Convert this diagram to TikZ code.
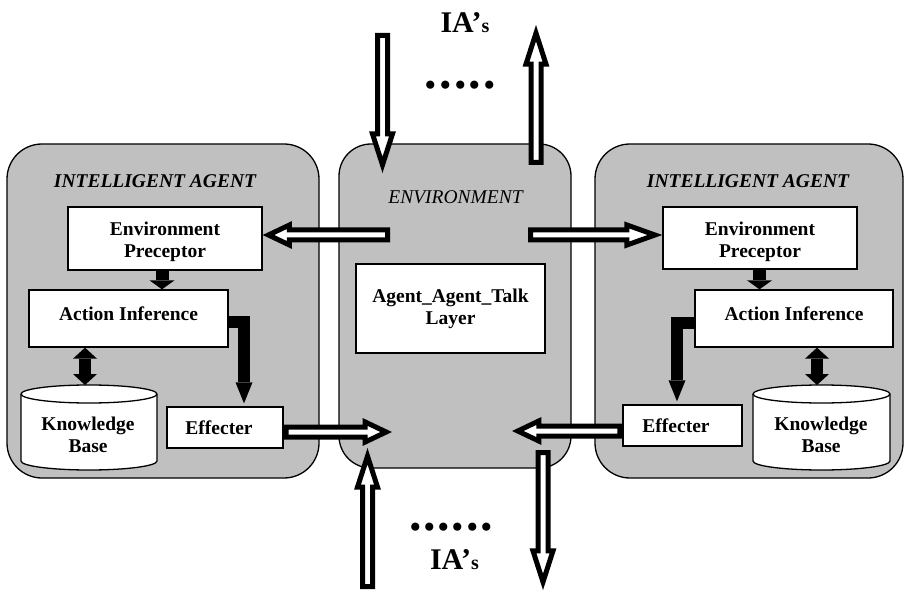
\documentclass[tikz,border=0pt]{standalone}
\usepackage{fontspec}
\setmainfont{Liberation Serif}
\usetikzlibrary{calc,arrows.meta}
\definecolor{panelgray}{RGB}{192,192,192}
\newcommand\boxfont{\fontsize{19.5}{22}\selectfont\bfseries}
% outlined block arrow: #1 outer tail end, #2 visible tip, #3 head length, #4 miter overshoot of the tip
\newcommand\hollowarrow[4]{%
  \coordinate (ha-t) at ($(#1)!2.5pt!(#2)$);
  \coordinate (ha-p) at ($(#2)!#4!(#1)$);
  \coordinate (ha-b) at ($(ha-p)!#3!(#1)$);
  \draw[hollow] ($(ha-t)!5pt!90:(ha-p)$) -- ($(ha-b)!5pt!90:(ha-p)$) -- ($(ha-b)!10pt!90:(ha-p)$) -- (ha-p)
    -- ($(ha-b)!10pt!-90:(ha-p)$) -- ($(ha-b)!5pt!-90:(ha-p)$) -- ($(ha-t)!5pt!-90:(ha-p)$) -- cycle;}
% database drum: #1 centre, #2 half width, #3 half height
\newcommand\drum[3]{%
  \draw[line width=1.3pt, fill=white] ($(#1)+(-#2,#3-9)$) -- ($(#1)+(-#2,-#3+9)$)
    arc[start angle=180, end angle=360, x radius=#2pt, y radius=9pt] -- ($(#1)+(#2,#3-9)$)
    arc[start angle=0, end angle=180, x radius=#2pt, y radius=9pt] -- cycle;
  \draw[line width=1.3pt] ($(#1)+(-#2,#3-9)$) arc[start angle=180, end angle=360, x radius=#2pt, y radius=9pt];}
\tikzset{
  panel/.style={draw=black, line width=1.3pt, fill=panelgray, rounded corners=35pt, inner sep=0pt},
  unitbox/.style={draw=black, line width=1.3pt, fill=white, inner sep=0pt, font=\boxfont},
  drumtext/.style={inner sep=0pt, align=center, font=\boxfont},
  agenttitle/.style={inner sep=0pt, font=\fontsize{19.5}{22}\selectfont\bfseries\itshape},
  envtitle/.style={inner sep=0pt, font=\fontsize{19.5}{22}\selectfont\itshape},
  iaslabel/.style={inner sep=0pt, font=\fontsize{30}{30}\selectfont\bfseries},
  dotrow/.style={inner sep=0pt, font=\fontsize{50}{50}\selectfont\bfseries},
  blkarrow/.style={line width=13pt, -{Triangle[length=9pt, width=25pt, line width=0pt]}},
  blkduplex/.style={line width=12pt,
    {Triangle[length=11pt, width=24pt, line width=0pt]}-{Triangle[length=11pt, width=24pt, line width=0pt]}},
  blkelbow/.style={line width=12pt, line join=miter, shorten >=3pt,
    -{Triangle[length=21pt, width=17pt, line width=0pt]}},
  hollow/.style={draw=black, fill=white, line width=5pt, line join=miter, miter limit=10},
}
\begin{document}
\begin{tikzpicture}[x=1pt, y=1pt]
\path[use as bounding box, fill=white] (0,0) rectangle (906,-591);

% the three panels
\node[panel, minimum width=312pt, minimum height=334pt] (LA) at (163,-311) {};
\node[panel, rounded corners=32pt, minimum width=232pt, minimum height=324pt] (ENV) at (455,-306) {};
\node[panel, minimum width=308pt, minimum height=334pt] (RA) at (749,-311) {};

\node[agenttitle] (LAtitle) at (155,-181.5) {INTELLIGENT AGENT};
\node[agenttitle] (RAtitle) at (748,-181.5) {INTELLIGENT AGENT};
\node[envtitle] (ENVtitle) at (455.5,-197.5) {ENVIRONMENT};

% left agent
\node[unitbox, align=center, minimum width=194pt, minimum height=63pt] (LEP) at (165,-238.5) {\rule{0pt}{21pt}Environment\\Preceptor};
\node[unitbox, text depth=10pt, minimum width=199pt, minimum height=57pt] (LAI) at (128.5,-318.5) {Action Inference};
\node[unitbox, minimum width=116pt, minimum height=41pt] (LEF) at (225,-427.5) {Effecter\kern12pt};
\coordinate (lkb) at (89,-427.5);
\drum{lkb}{68}{42.5}
\coordinate (LKBtop) at ($(lkb)+(0,42.5)$);
\node[drumtext] (LKB) at (88,-434.5) {Knowledge\\Base};

% right agent
\node[unitbox, align=center, minimum width=194pt, minimum height=62pt] (REP) at (760,-238) {\rule{0pt}{21pt}Environment\\Preceptor};
\node[unitbox, text depth=10pt, minimum width=198pt, minimum height=57pt] (RAI) at (794,-318.5) {Action Inference};
\node[unitbox, minimum width=119pt, minimum height=41pt] (REF) at (682.5,-425.5) {Effecter\kern13pt};
\coordinate (rkb) at (821.5,-427.5);
\drum{rkb}{68.5}{42.5}
\coordinate (RKBtop) at ($(rkb)+(0,42.5)$);
\node[drumtext] (RKB) at (821,-434.5) {Knowledge\\Base};

% environment
\node[unitbox, align=center, minimum width=189pt, minimum height=89pt] (ATL) at (450.5,-308.5) {Agent\_Agent\_Talk\\Layer};

% internal solid arrows
\coordinate (a1) at (162,0);
\coordinate (a2) at (759.5,0);
\coordinate (k1) at (85,0);
\coordinate (k2) at (817,0);
\coordinate (e1) at (244,-322);
\coordinate (e2) at (677,-323);
\draw[blkarrow] (a1 |- LEP.south) -- (a1 |- LAI.north);
\draw[blkarrow] (a2 |- REP.south) -- (a2 |- RAI.north);
\draw[blkduplex] (k1 |- LAI.south) -- (k1 |- LKBtop);
\draw[blkduplex] (k2 |- RAI.south) -- (k2 |- RKBtop);
\draw[blkelbow] (e1 -| LAI.east) -- (e1) -- (e1 |- LEF.north);
\draw[blkelbow] (e2 -| RAI.west) -- (e2) -- (e2 |- REF.north);

% outlined exchange arrows
\coordinate (t1) at (390,-235);
\coordinate (p1) at (LEP.east |- t1);
\hollowarrow{t1}{p1}{21pt}{5.8pt}
\coordinate (t2) at (528,-235);
\coordinate (p2) at (REP.west |- t2);
\hollowarrow{t2}{p2}{28pt}{7.4pt}
\coordinate (y3) at (0,-432);
\coordinate (t3) at (LEF.east |- y3);
\coordinate (p3) at (392,-432);
\hollowarrow{t3}{p3}{21pt}{5.8pt}
\coordinate (y4) at (0,-431);
\coordinate (t4) at (REF.west |- y4);
\coordinate (p4) at (512,-431);
\hollowarrow{t4}{p4}{21pt}{5.8pt}
\coordinate (t5) at (382.5,-33);
\coordinate (p5) at (382.5,-173);
\hollowarrow{t5}{p5}{31pt}{8.1pt}
\coordinate (t6) at (536,-165);
\coordinate (p6) at (536,-25);
\hollowarrow{t6}{p6}{31pt}{8.1pt}
\coordinate (t7) at (367.5,-589);
\coordinate (p7) at (367.5,-448);
\hollowarrow{t7}{p7}{31pt}{8.1pt}
\coordinate (t8) at (543,-450);
\coordinate (p8) at (543,-590);
\hollowarrow{t8}{p8}{31pt}{8.1pt}

% other agents
\node[iaslabel] (IAtop) at (465,-23) {IA’{\fontsize{20}{20}\selectfont s}};
\node[dotrow] (moretop) at (460.5,-85) {.\kern2.2pt.\kern2.2pt.\kern2.2pt.\kern2.2pt.};
\node[dotrow] (morebottom) at (451,-527) {.\kern1.7pt.\kern1.7pt.\kern1.7pt.\kern1.7pt.\kern1.7pt.};
\node[iaslabel] (IAbottom) at (454.5,-560) {IA’{\fontsize{20}{20}\selectfont s}};
\end{tikzpicture}
\end{document}
